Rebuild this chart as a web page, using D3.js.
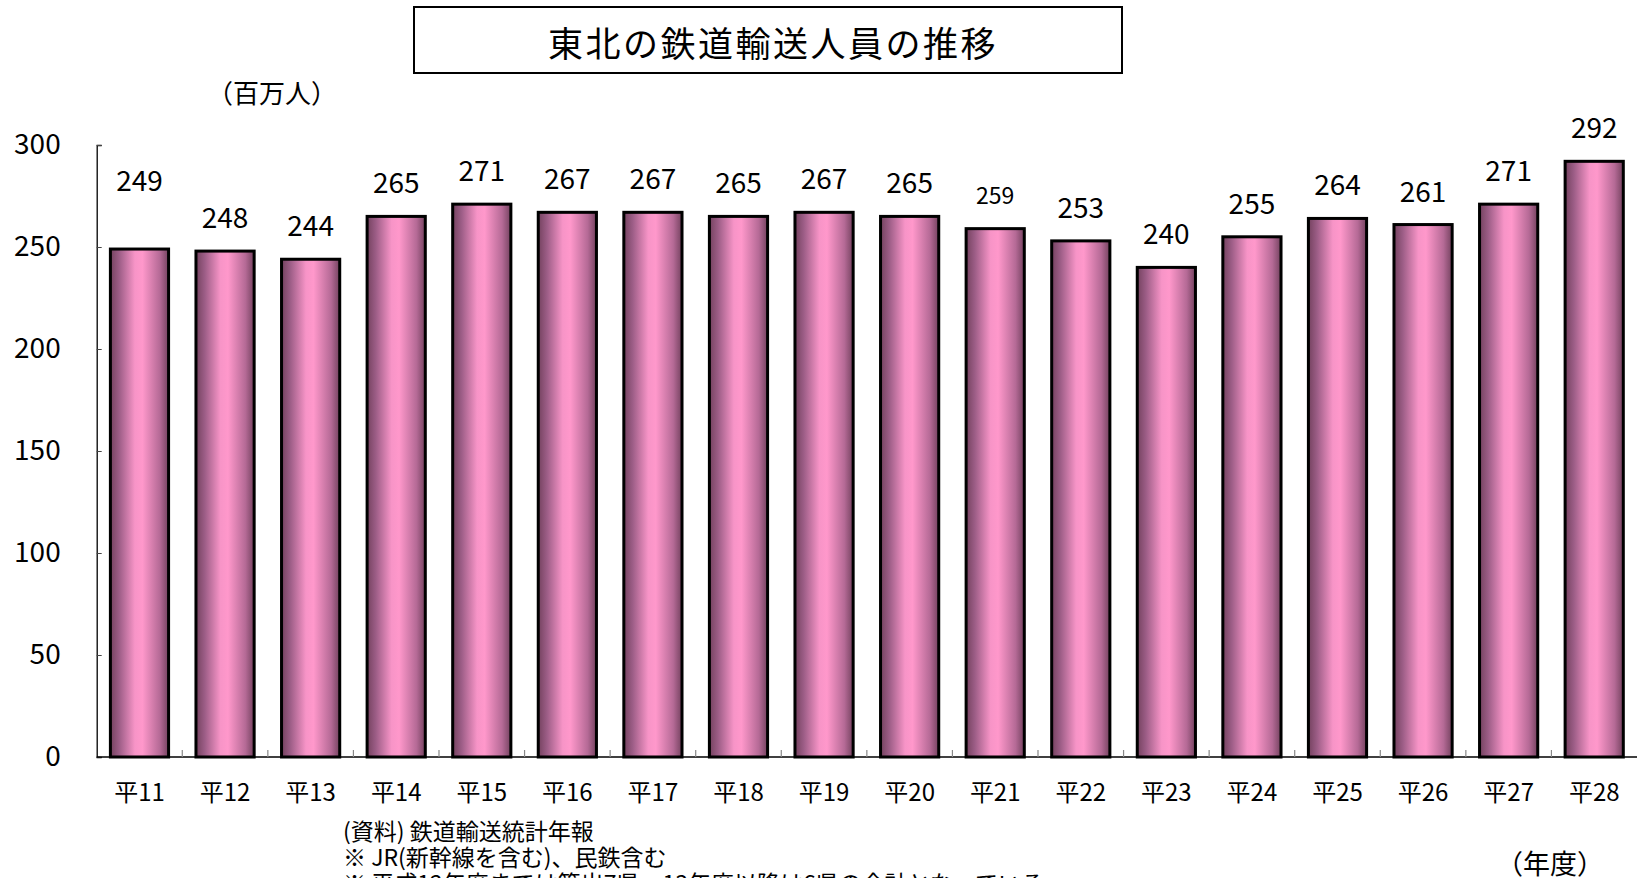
<!DOCTYPE html>
<html>
<head>
<meta charset="utf-8">
<script src="https://cdn.jsdelivr.net/npm/d3@7"></script>
<style>
  body { margin: 0; background: #fff; }
  text { font-family: "Noto Sans CJK JP", "Noto Sans", sans-serif; fill: #000; }
</style>
</head>
<body>
<div id="chart"></div>
<script>
var years = ["平11", "平12", "平13", "平14", "平15", "平16", "平17", "平18", "平19",
             "平20", "平21", "平22", "平23", "平24", "平25", "平26", "平27", "平28"];
var riders = [249, 248, 244, 265, 271, 267, 267, 265, 267, 265, 259, 253, 240, 255, 264, 261, 271, 292];
var yTicks = [0, 50, 100, 150, 200, 250, 300];
var notes = [
    "(資料) 鉄道輸送統計年報",
    "※ JR(新幹線を含む)、民鉄含む",
    "※ 平成12年度までは算出7県、13年度以降は6県の合計となっている"
];

var width = 1637, height = 878;
var plot = { left: 96.7, right: 1637, top: 145, bottom: 757 };

// labels that the original placed by hand
var labelLift = { 0: 35 };
var labelSmall = { 10: true };

var svg = d3.select("#chart").append("svg")
    .attr("width", width)
    .attr("height", height);

var grad = svg.append("defs").append("linearGradient")
    .attr("id", "barFill")
    .attr("x1", "0%").attr("x2", "100%")
    .attr("y1", "0%").attr("y2", "0%");
[[0, "#74425f"], [0.15, "#9c5d86"], [0.42, "#f794c7"], [0.55, "#ff98cb"],
 [0.85, "#b56a96"], [1, "#74425f"]].forEach(function(s) {
    grad.append("stop").attr("offset", s[0]).attr("stop-color", s[1]);
});

var x = d3.scaleBand()
    .domain(years)
    .range([plot.left, plot.right])
    .paddingInner(0.32)
    .paddingOuter(0.16);

var y = d3.scaleLinear()
    .domain([0, 300])
    .range([plot.bottom, plot.top]);

// title box
svg.append("rect")
    .attr("x", 414).attr("y", 7)
    .attr("width", 708).attr("height", 66)
    .attr("fill", "#fff")
    .attr("stroke", "#000")
    .attr("stroke-width", 2);

svg.append("text")
    .attr("x", 773).attr("y", 41)
    .attr("text-anchor", "middle")
    .attr("dominant-baseline", "central")
    .style("font-size", "35px")
    .style("letter-spacing", "2.5px")
    .text("東北の鉄道輸送人員の推移");

svg.append("text")
    .attr("x", 272).attr("y", 91)
    .attr("text-anchor", "middle")
    .attr("dominant-baseline", "central")
    .style("font-size", "26px")
    .text("（百万人）");

// y axis
var yAxis = d3.axisLeft(y)
    .tickValues(yTicks)
    .tickSize(-5)
    .tickPadding(40);

var yG = svg.append("g")
    .attr("transform", "translate(" + plot.left + ",0)")
    .call(yAxis);
yG.select(".domain").attr("stroke", "#000").attr("stroke-width", 1.3);
yG.selectAll(".tick line").attr("stroke", "#444");
yG.selectAll(".tick text")
    .attr("x", -36)
    .style("font-size", "28px")
    .style("font-family", "'Noto Sans CJK JP', sans-serif");

// bars
svg.selectAll("rect.bar")
    .data(riders)
    .enter().append("rect")
    .attr("class", "bar")
    .attr("x", function(d, i) { return x(years[i]); })
    .attr("y", function(d) { return y(d); })
    .attr("width", x.bandwidth())
    .attr("height", function(d) { return y(0) - y(d); })
    .attr("fill", "url(#barFill)")
    .attr("stroke", "#000")
    .attr("stroke-width", 3);

// x axis line and small ticks between categories
svg.append("line")
    .attr("x1", plot.left).attr("x2", plot.right)
    .attr("y1", plot.bottom).attr("y2", plot.bottom)
    .attr("stroke", "#000")
    .attr("stroke-width", 1.5);

svg.selectAll("line.sep")
    .data(years.slice(1))
    .enter().append("line")
    .attr("class", "sep")
    .attr("x1", function(d) { return x(d) - x.step() * x.paddingInner() / 2; })
    .attr("x2", function(d) { return x(d) - x.step() * x.paddingInner() / 2; })
    .attr("y1", plot.bottom)
    .attr("y2", plot.bottom - 7)
    .attr("stroke", "#888")
    .attr("stroke-width", 1.2);

svg.selectAll("text.cat")
    .data(years)
    .enter().append("text")
    .attr("class", "cat")
    .attr("x", function(d) { return x(d) + x.bandwidth() / 2; })
    .attr("y", 790)
    .attr("text-anchor", "middle")
    .attr("dominant-baseline", "central")
    .style("font-size", "24px")
    .text(function(d) { return d; });

// value labels
svg.selectAll("text.val")
    .data(riders)
    .enter().append("text")
    .attr("class", "val")
    .attr("x", function(d, i) { return x(years[i]) + x.bandwidth() / 2; })
    .attr("y", function(d, i) { return y(d) - 35 - (labelLift[i] || 0); })
    .attr("text-anchor", "middle")
    .attr("dominant-baseline", "central")
    .style("font-size", function(d, i) { return labelSmall[i] ? "23px" : "28px"; })
    .text(function(d) { return d; });

// notes
svg.selectAll("text.note")
    .data(notes)
    .enter().append("text")
    .attr("class", "note")
    .attr("x", 343)
    .attr("y", function(d, i) { return 830 + i * 26; })
    .attr("dominant-baseline", "central")
    .style("font-size", "23px")
    .text(function(d) { return d; });

svg.append("text")
    .attr("x", 1550).attr("y", 862)
    .attr("text-anchor", "middle")
    .attr("dominant-baseline", "central")
    .style("font-size", "27px")
    .text("（年度）");
</script>
</body>
</html>
